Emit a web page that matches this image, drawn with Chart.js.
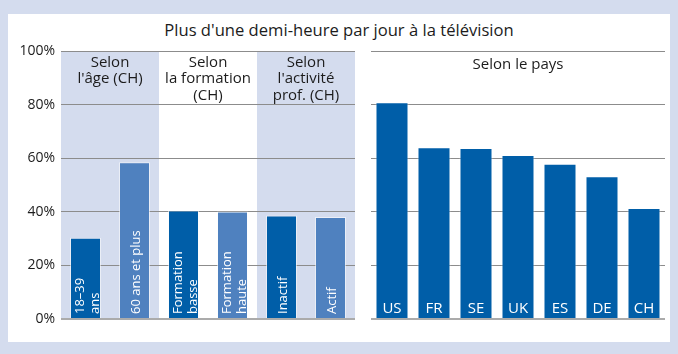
<!DOCTYPE html>
<html><head><meta charset="utf-8">
<script src="https://cdn.jsdelivr.net/npm/chart.js@4/dist/chart.umd.min.js"></script>
<style>
html,body{margin:0;padding:0;background:#d4dcee;width:678px;height:354px;overflow:hidden;font-family:"Open Sans",sans-serif;}
#panel{position:absolute;left:8px;top:14px;width:662px;height:328px;background:#fff;}
#title{position:absolute;left:0;top:20px;width:678px;text-align:center;font-size:16.6px;color:#1c1c1c;line-height:20px;white-space:nowrap;}
#c1{position:absolute;left:0;top:0;}
#c2{position:absolute;left:360px;top:0;}
</style></head><body>
<div id="panel"></div>
<div id="title"></div>
<canvas id="c1" width="360" height="354"></canvas>
<canvas id="c2" width="318" height="354"></canvas>
<script>
// ---- data ----
const chartTitle = "Plus d'une demi-heure par jour à la télévision";
const groupHeaders = [["Selon","l'âge (CH)"],["Selon","la formation","(CH)"],["Selon","l'activité","prof. (CH)"]];
const swissLabels = [["18–39","ans"],["60 ans et plus"],["Formation","basse"],["Formation","haute"],["Inactif"],["Actif"]];
const swissValues = [30.3, 58.5, 40.5, 40.1, 38.6, 38.1];
const countryHeader = "Selon le pays";
const countries = ["US","FR","SE","UK","ES","DE","CH"];
const countryValues = [80.9, 64.1, 63.8, 61.2, 57.9, 53.3, 41.4];
const yTickValues = [0, 20, 40, 60, 80, 100];

// ---- styles ----
const FONT = '"Open Sans", sans-serif';
const DARK = '#005ea8', LIGHT = '#4f81bf', SHADE = '#d4dcee', TXT = '#1c1c1c';
document.getElementById('title').textContent = chartTitle;

const yScale = (width, showLabels) => ({
  min: 0, max: 100,
  afterBuildTicks: s => { s.ticks = yTickValues.map(v => ({value: v})); },
  afterFit: s => { s.width = width; },
  border: {display: false},
  grid: {
    drawTicks: false,
    color: c => (c.tick && c.tick.value === 0) ? '#ababab' : '#8c8c8c',
    lineWidth: c => (c.tick && c.tick.value === 0) ? 2 : 1
  },
  ticks: {display: showLabels, padding: 6, color: TXT, font: {family: FONT, size: 14}, callback: v => v + '%'}
});
const xScale = () => ({
  afterFit: s => { s.height = 0; },
  border: {display: false}, grid: {display: false}, ticks: {display: false}
});

const shadePlugin = {
  id: 'shade',
  beforeDraw(chart, args, opts) {
    if (!opts.groups) return;
    const {ctx, chartArea: a, scales: {x}} = chart;
    const cw = x.getPixelForValue(1) - x.getPixelForValue(0);
    ctx.save();
    ctx.fillStyle = SHADE;
    opts.groups.forEach((g, i) => {
      if (i === 1) return;
      const l = x.getPixelForValue(i * 2) - cw / 2;
      ctx.fillRect(l, a.top, cw * 2, a.bottom - a.top + 1);
    });
    ctx.restore();
  },
  afterDatasetsDraw(chart, args, opts) {
    const {ctx, chartArea: a, scales: {x}} = chart;
    const meta = chart.getDatasetMeta(0);
    ctx.save();
    ctx.fillStyle = '#fff';
    if (opts.mode === 'vertical') {
      ctx.font = '13px ' + FONT;
      ctx.textAlign = 'left'; ctx.textBaseline = 'middle';
      meta.data.forEach((bar, i) => {
        const lines = chart.data.labels[i];
        ctx.save();
        ctx.translate(bar.x, bar.base - 4);
        ctx.rotate(-Math.PI / 2);
        const off0 = -(lines.length - 1) * 15 / 2 + 2;
        lines.forEach((ln, k) => ctx.fillText(ln, 0, off0 + k * 15));
        ctx.restore();
      });
    } else {
      ctx.font = '15px ' + FONT;
      ctx.textAlign = 'center'; ctx.textBaseline = 'alphabetic';
      meta.data.forEach((bar, i) => ctx.fillText(chart.data.labels[i], bar.x, bar.base - 5));
    }
    // headers
    ctx.fillStyle = TXT;
    ctx.font = '15px ' + FONT;
    ctx.textAlign = 'center'; ctx.textBaseline = 'alphabetic';
    if (opts.groups) {
      opts.groups.forEach((g, i) => {
        const cx = (x.getPixelForValue(i * 2) + x.getPixelForValue(i * 2 + 1)) / 2;
        g.forEach((ln, k) => ctx.fillText(ln, cx, a.top + 16 + k * 16.3));
      });
    }
    if (opts.header) ctx.fillText(opts.header, (a.left + a.right) / 2, a.top + 18);
    ctx.restore();
  }
};

const barColors = c => (c.dataIndex % 2 === 0 ? DARK : LIGHT);

new Chart(document.getElementById('c1'), {
  type: 'bar',
  data: {labels: swissLabels, datasets: [{data: swissValues, backgroundColor: barColors,
    borderColor: 'rgba(255,255,255,0.55)', borderWidth: 1, barPercentage: 0.633, categoryPercentage: 1}]},
  options: {
    responsive: false, animation: false, events: [],
    layout: {padding: {left: 0, right: 5, top: 51, bottom: 35}},
    scales: {x: xScale(), y: yScale(61, true)},
    plugins: {legend: {display: false}, tooltip: {enabled: false},
      shade: {groups: groupHeaders, mode: 'vertical'}}
  },
  plugins: [shadePlugin]
});

new Chart(document.getElementById('c2'), {
  type: 'bar',
  data: {labels: countries, datasets: [{data: countryValues, backgroundColor: DARK,
    borderColor: 'rgba(255,255,255,0.45)', borderWidth: 1, barPercentage: 0.786, categoryPercentage: 1}]},
  options: {
    responsive: false, animation: false, events: [],
    layout: {padding: {left: 11, right: 13, top: 51, bottom: 35}},
    scales: {x: xScale(), y: yScale(0, false)},
    plugins: {legend: {display: false}, tooltip: {enabled: false},
      shade: {header: countryHeader, mode: 'horizontal'}}
  },
  plugins: [shadePlugin]
});
</script>
</body></html>
